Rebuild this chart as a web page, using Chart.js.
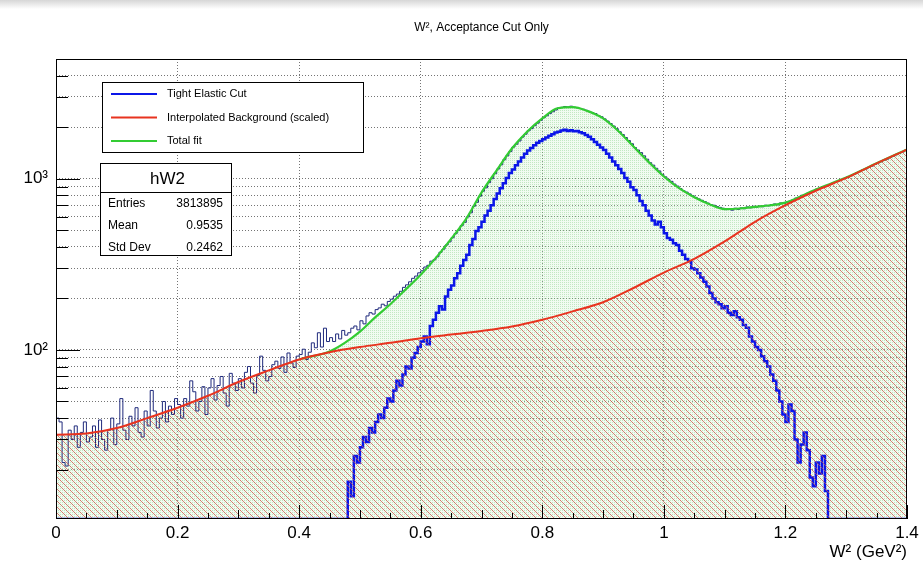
<!DOCTYPE html>
<html>
<head>
  <title>W2, Acceptance Cut Only</title>
  <script src="https://cdn.jsdelivr.net/npm/chart.js"></script>
  <style>
    body { margin: 0; background: #fff; }
    #wrap { position: relative; width: 923px; height: 575px; }
    #shade { position: absolute; left: 0; top: 0; width: 923px; height: 9px; background: linear-gradient(#d6d6d6, #fff); pointer-events: none; }
  </style>
</head>
<body>
  <div id="wrap">
    <canvas id="w2Chart"></canvas>
    <div id="shade"></div>
  </div>

  <script>
    const TITLE = "W\u00b2, Acceptance Cut Only";
    const X_TITLE = "W\u00b2 (GeV\u00b2)";
    const Y_MIN = 10.3, Y_MAX = 5000;
    const BIN_W = 0.005;

    // hW2, all events, 0.005 wide bins from 0 to 1.4
    const totalVals = [
      40, 38, 22, 21, 34, 30, 36, 27, 33, 38,
      29, 31, 36, 27, 39, 30, 26, 34, 40, 28,
      37, 52, 34, 30, 41, 36, 46, 33, 31, 44,
      36, 58, 44, 35, 40, 50, 38, 47, 42, 52,
      48, 40, 52, 47, 66, 57, 44, 50, 61, 42,
      60, 68, 51, 62, 70, 56, 47, 73, 64, 58,
      68, 60, 74, 80, 64, 56, 71, 92, 76, 66,
      70, 82, 86, 78, 91, 74, 96, 84, 79, 92,
      94, 101, 88, 97, 110, 103, 126, 104, 134, 112,
      118, 112, 124, 116, 130, 122, 126, 134, 138, 131,
      148, 142, 158, 165, 162, 172, 176, 185, 181, 192,
      198, 206, 212, 220, 232, 240, 250, 262, 270, 282,
      290, 305, 312, 330, 336, 350, 372, 388, 410, 428,
      452, 478, 500, 532, 556, 598, 632, 690, 728, 790,
      845, 885, 948, 1000, 1070, 1140, 1205, 1290, 1360, 1440,
      1530, 1590, 1660, 1750, 1820, 1905, 1960, 2040, 2110, 2190,
      2270, 2330, 2400, 2460, 2520, 2590, 2610, 2640, 2625, 2650,
      2615, 2600, 2570, 2545, 2510, 2470, 2430, 2400, 2340, 2300,
      2235, 2170, 2100, 2030, 1960, 1880, 1810, 1740, 1670, 1600,
      1520, 1470, 1420, 1360, 1300, 1240, 1200, 1150, 1110, 1060,
      1025, 990, 965, 930, 905, 875, 850, 835, 815, 795,
      778, 762, 748, 735, 720, 705, 700, 688, 680, 672,
      660, 668, 655, 672, 662, 675, 668, 684, 676, 690,
      682, 692, 686, 700, 694, 706, 712, 704, 722, 716,
      730, 740, 752, 770, 778, 800, 806, 825, 838, 852,
      872, 880, 898, 908, 925, 940, 958, 970, 988, 1002,
      1022, 1040, 1058, 1080, 1100, 1125, 1140, 1165, 1185, 1210,
      1235, 1255, 1282, 1300, 1330, 1352, 1380, 1405, 1432, 1462
    ];

    // tight elastic cut, same binning; bins before TIGHT_FIRST and after the list are empty
    const TIGHT_FIRST = 96;
    const tightVals = [
      17, 14, 24, 22,
      27, 31, 29, 35, 33, 38, 42, 40, 46, 52,
      50, 58, 66, 62, 72, 80, 78, 90, 96, 104,
      112, 120, 108, 138, 150, 165, 180, 172, 205, 225,
      238, 262, 280, 310, 335, 360, 410, 445, 495, 520,
      560, 610, 650, 700, 760, 820, 880, 940, 1010, 1080,
      1130, 1200, 1260, 1330, 1400, 1460, 1510, 1570, 1620, 1660,
      1700, 1740, 1780, 1820, 1860, 1880, 1910, 1930, 1900, 1920,
      1890, 1900, 1870, 1840, 1800, 1760, 1700, 1640, 1580, 1520,
      1470, 1400, 1330, 1260, 1200, 1140, 1080, 1010, 960, 890,
      860, 800, 740, 700, 650, 610, 570, 540, 560, 520,
      480, 450, 440, 420, 410, 380, 360, 340, 330, 300,
      295, 280, 265, 250, 235, 215, 200, 190, 185, 175,
      180, 165, 160, 168, 155, 150, 140, 135, 120, 112,
      104, 100, 92, 86, 80, 72, 66, 58, 50, 42,
      38, 48, 44, 30, 22, 28, 33, 26, 18, 16,
      22, 19, 24, 15
    ];

    const bgX = [0, 0.05, 0.1, 0.15, 0.2, 0.25, 0.3, 0.35, 0.4, 0.45, 0.5, 0.55, 0.6, 0.65, 0.7,
                 0.75, 0.8, 0.85, 0.9, 0.95, 1.0, 1.05, 1.1, 1.15, 1.2, 1.25, 1.3, 1.35, 1.4];
    const bgY = [32, 32.5, 35, 40, 46, 54, 65, 76, 88, 97, 104, 110, 117, 123, 129,
                 137, 150, 168, 190, 230, 283, 340, 430, 560, 700, 850, 1010, 1230, 1480];

    const fitX = [0, 0.05, 0.1, 0.15, 0.2, 0.25, 0.3, 0.35, 0.4, 0.45, 0.475, 0.5, 0.525, 0.55, 0.575,
                  0.6, 0.625, 0.65, 0.675, 0.7, 0.725, 0.75, 0.775, 0.8, 0.825, 0.85, 0.875, 0.9, 0.925,
                  0.95, 0.975, 1.0, 1.025, 1.05, 1.075, 1.1, 1.125, 1.15, 1.175, 1.2, 1.25, 1.3, 1.35, 1.4];
    const fitY = [32, 32.5, 35, 40, 46, 54, 65, 76, 88, 98, 110, 128, 155, 185, 225,
                  275, 345, 445, 585, 830, 1120, 1500, 1880, 2250, 2580, 2620, 2480, 2250, 1900,
                  1540, 1250, 1030, 880, 780, 710, 665, 670, 685, 700, 725, 865, 1015, 1230, 1480];

    const yTicks = [20, 30, 40, 50, 60, 70, 80, 90, 100, 200, 300, 400, 500, 600, 700, 800, 900,
                    1000, 2000, 3000, 4000];
    const yLabels = { 100: "10\u00b2", 1000: "10\u00b3" };

    const statsTitle = "hW2";
    const statsNames = ["Entries", "Mean", "Std Dev"];
    const statsValues = ["3813895", "0.9535", "0.2462"];

    const nBins = totalVals.length;
    const tightAll = Array.from({ length: nBins }, (_, i) => {
      const k = i - TIGHT_FIRST;
      return k >= 0 && k < tightVals.length ? tightVals[k] : 0;
    });

    // empty bins sit on the frame bottom, as ROOT draws them
    const histPoints = vals => vals.map((v, i) => ({ x: i * BIN_W, y: Math.max(v, Y_MIN) }))
      .concat([{ x: vals.length * BIN_W, y: Math.max(vals[vals.length - 1], Y_MIN) }]);
    const curvePoints = (xs, ys) => xs.map((x, i) => ({ x: x, y: ys[i] }));

    function dotPattern() {
      const c = document.createElement("canvas");
      c.width = 2; c.height = 2;
      const g = c.getContext("2d");
      g.fillStyle = "rgba(200,238,200,0.25)";
      g.fillRect(0, 0, 2, 2);
      g.clearRect(0, 0, 1, 1);
      g.fillStyle = "rgba(120,205,120,0.45)";
      g.fillRect(0, 0, 1, 1);
      return g.createPattern(c, "repeat");
    }

    function hatchPattern() {
      const c = document.createElement("canvas");
      c.width = 6; c.height = 6;
      const g = c.getContext("2d");
      g.strokeStyle = "rgba(210,80,70,0.7)";
      g.lineWidth = 1;
      g.beginPath();
      g.moveTo(-1, -1); g.lineTo(7, 7);
      g.moveTo(-1, 5); g.lineTo(1, 7);
      g.moveTo(5, -1); g.lineTo(7, 1);
      g.stroke();
      return g.createPattern(c, "repeat");
    }

    const FONT = '"Liberation Sans", Arial, sans-serif';
    const GREEN = "#33cc33";
    const gridColor = "rgba(70,70,70,0.75)";

    // ROOT style frame, inward ticks, legend and stats box
    const rootDecor = {
      id: "rootDecor",
      afterDraw(chart) {
        const { ctx, chartArea: a, scales: { x, y } } = chart;
        ctx.save();
        ctx.strokeStyle = "#000";
        ctx.lineWidth = 1;
        ctx.strokeRect(a.left + 0.5, a.top + 0.5, a.right - a.left - 1, a.bottom - a.top - 1);

        ctx.beginPath();
        for (let i = 0; i <= 28; i++) {
          const px = Math.round(x.getPixelForValue(i * 0.05)) + 0.5;
          const len = i % 4 === 0 ? 14 : (i % 2 === 0 ? 9 : 6);
          ctx.moveTo(px, a.bottom);
          ctx.lineTo(px, a.bottom - len);
        }
        yTicks.forEach(v => {
          const py = Math.round(y.getPixelForValue(v)) + 0.5;
          const len = yLabels[v] ? 24 : 12;
          ctx.moveTo(a.left, py);
          ctx.lineTo(a.left + len, py);
        });
        ctx.stroke();

        ctx.fillStyle = "#000";
        ctx.font = "12px " + FONT;
        ctx.textAlign = "center";
        ctx.textBaseline = "middle";
        ctx.fillText(TITLE, (a.left + a.right) / 2, 28);

        // legend
        const lx = a.left + 46, ly = a.top + 23;
        ctx.fillStyle = "#fff";
        ctx.fillRect(lx, ly, 261, 70);
        ctx.strokeRect(lx + 0.5, ly + 0.5, 261, 70);
        const ds = chart.data.datasets;
        [2, 0, 1].forEach((idx, row) => {
          const cy = ly + 12 + row * 23.5;
          ctx.strokeStyle = ds[idx].borderColor;
          ctx.lineWidth = 2;
          ctx.beginPath();
          ctx.moveTo(lx + 9, cy);
          ctx.lineTo(lx + 55, cy);
          ctx.stroke();
          ctx.fillStyle = "#000";
          ctx.font = "11px " + FONT;
          ctx.textAlign = "left";
          ctx.fillText(ds[idx].label, lx + 65, cy);
        });

        // stats box
        const sx = a.left + 44, sy = a.top + 104, sw = 131, sh = 92;
        ctx.fillStyle = "#fff";
        ctx.fillRect(sx, sy, sw, sh);
        ctx.strokeStyle = "#000";
        ctx.lineWidth = 1;
        ctx.strokeRect(sx + 0.5, sy + 0.5, sw, sh);
        ctx.beginPath();
        ctx.moveTo(sx, sy + 29.5);
        ctx.lineTo(sx + sw, sy + 29.5);
        ctx.stroke();
        ctx.fillStyle = "#000";
        ctx.font = "17px " + FONT;
        ctx.textAlign = "center";
        ctx.fillText(statsTitle, sx + sw / 2 + 2, sy + 16);
        ctx.font = "12px " + FONT;
        statsNames.forEach((name, i) => {
          const cy = sy + 41 + i * 22;
          ctx.textAlign = "left";
          ctx.fillText(name, sx + 8, cy);
          ctx.textAlign = "right";
          ctx.fillText(statsValues[i], sx + sw - 8, cy);
        });
        ctx.restore();
      }
    };

    new Chart(document.getElementById("w2Chart"), {
      type: "line",
      data: {
        datasets: [
          {
            label: "Interpolated Background (scaled)",
            data: curvePoints(bgX, bgY),
            borderColor: "#e8331f",
            borderWidth: 2,
            backgroundColor: hatchPattern(),
            fill: "start",
            cubicInterpolationMode: "monotone",
            pointRadius: 0,
            order: 0
          },
          {
            label: "Total fit",
            data: curvePoints(fitX, fitY),
            borderColor: GREEN,
            borderWidth: 2.2,
            fill: false,
            cubicInterpolationMode: "monotone",
            pointRadius: 0,
            segment: { borderColor: c => c.p1.parsed.x <= 0.425 ? "transparent" : GREEN },
            order: 1
          },
          {
            label: "Tight Elastic Cut",
            data: histPoints(tightAll),
            borderColor: "#0b16e8",
            borderWidth: 2.5,
            stepped: true,
            fill: false,
            pointRadius: 0,
            order: 2
          },
          {
            label: "hW2",
            data: histPoints(totalVals),
            borderColor: "#1f2a7c",
            borderWidth: 1,
            stepped: true,
            fill: false,
            pointRadius: 0,
            order: 3
          },
          {
            label: "fit area",
            data: curvePoints(fitX, fitY),
            borderColor: "transparent",
            borderWidth: 0,
            backgroundColor: dotPattern(),
            fill: "start",
            cubicInterpolationMode: "monotone",
            pointRadius: 0,
            order: 4
          }
        ]
      },
      options: {
        responsive: true,
        maintainAspectRatio: false,
        animation: false,
        color: "#000",
        layout: { padding: { top: 59, right: 16, left: 0, bottom: 0 } },
        plugins: {
          legend: { display: false },
          tooltip: { enabled: false },
          title: { display: false }
        },
        scales: {
          x: {
            type: "linear",
            min: 0,
            max: 1.4,
            afterFit: s => { s.height = 56; },
            ticks: {
              stepSize: 0.2,
              color: "#000",
              padding: 4,
              font: { family: FONT, size: 17 },
              callback: v => String(+v.toFixed(1))
            },
            grid: {
              drawTicks: false,
              color: c => (c.tick && (c.tick.value <= 0 || c.tick.value >= 1.4)) ? "transparent" : gridColor
            },
            border: { display: false, dash: [1, 2] },
            title: {
              display: true,
              text: X_TITLE,
              align: "end",
              color: "#000",
              font: { family: FONT, size: 17 },
              padding: { top: 0, bottom: 12 }
            }
          },
          y: {
            type: "logarithmic",
            min: Y_MIN,
            max: Y_MAX,
            afterFit: s => { s.width = 56; },
            afterBuildTicks: s => { s.ticks = yTicks.map(v => ({ value: v })); },
            ticks: {
              autoSkip: false,
              color: "#000",
              padding: 8,
              font: { family: FONT, size: 17 },
              callback: v => yLabels[v] || ""
            },
            grid: { drawTicks: false, color: gridColor },
            border: { display: false, dash: [1, 2] }
          }
        }
      },
      plugins: [rootDecor]
    });
  </script>
</body>
</html>
